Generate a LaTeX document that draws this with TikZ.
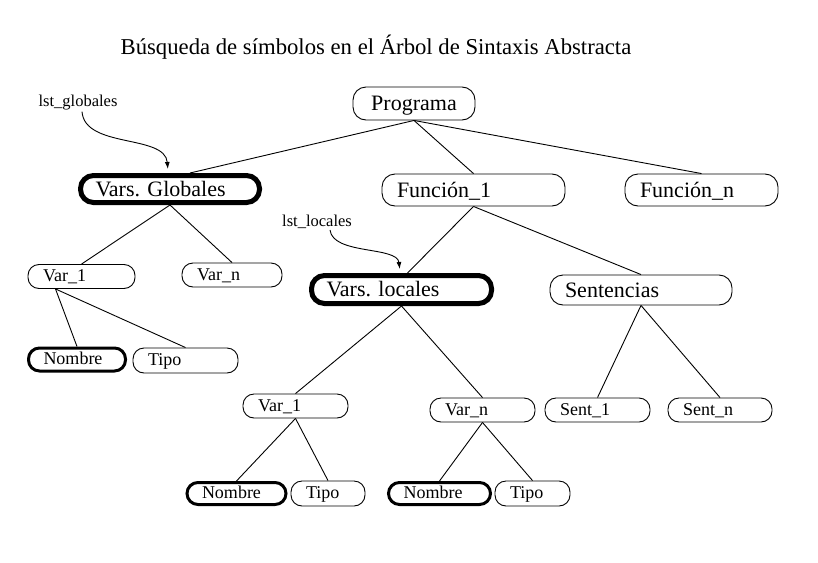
\documentclass[tikz,border=0pt]{standalone}
\usepackage{fontspec}
\setmainfont{Liberation Serif}
\usepackage{tikz}
\usetikzlibrary{arrows.meta}
\frenchspacing

\begin{document}
\begin{tikzpicture}[
  x=1pt, y=-1pt,
  grande/.style={draw,line width=0.9pt,rounded corners=13pt,inner xsep=15pt,inner ysep=0pt,align=left,text height=18pt,text depth=4pt,font=\fontsize{22}{24}\selectfont},
  chica/.style={draw,line width=0.9pt,rounded corners=11pt,inner xsep=15pt,inner ysep=0pt,align=left,minimum height=24pt,text height=14pt,text depth=4pt,font=\fontsize{18}{20}\selectfont},
  marcado/.style={line width=5pt},
  marcadito/.style={line width=3pt},
  etiqueta/.style={inner sep=0pt,font=\fontsize{16.5}{18}\selectfont},
  rama/.style={line width=0.9pt},
  puntero/.style={-{Latex[length=7pt,width=5pt]},line width=0.9pt,shorten >=2pt}
]
\useasboundingbox (0,0) rectangle (818,562);

\node[font=\fontsize{22.7}{24}\selectfont] (titulo) at (376,47) {Búsqueda de símbolos en el Árbol de Sintaxis Abstracta};

% nivel 0 y 1
\node[grande,text width=92pt,align=center,minimum height=33pt] (prog) at (414,103.5) {Programa};
\node[grande,marcado,text width=149pt,minimum height=27pt] (vglob) at (170,189) {Vars. Globales};
\node[grande,text width=153pt,minimum height=32pt] (fun1) at (473.5,190) {Función\_1};
\node[grande,text width=123pt,minimum height=32pt] (funn) at (701.5,190) {Función\_n};

% globales
\node[chica,text width=77pt] (v1g) at (81.5,276.5) {Var\_1};
\node[chica,text width=70pt] (vng) at (232,275) {Var\_n};
\node[chica,marcadito,text width=67pt,minimum height=23pt] (nomg) at (77,359.5) {Nombre};
\node[chica,text width=75pt,minimum height=25pt] (tipg) at (185.5,360.5) {Tipo};

% funcion
\node[grande,marcado,text width=150pt,minimum height=28pt] (vloc) at (401.5,289.5) {Vars. locales};
\node[grande,text width=152pt,minimum height=30pt] (sent) at (641,290) {Sentencias};
\node[chica,text width=75pt] (v1l) at (295.5,406) {Var\_1};
\node[chica,text width=75pt] (vnl) at (482.5,410) {Var\_n};
\node[chica,text width=75pt] (s1) at (597.5,410) {Sent\_1};
\node[chica,text width=74pt] (sn) at (720,410) {Sent\_n};
\node[chica,marcadito,text width=69pt,minimum height=22pt] (noml) at (236.5,493.5) {Nombre};
\node[chica,text width=44pt,minimum height=25pt] (tipl) at (328,493.5) {Tipo};
\node[chica,marcadito,text width=72pt,minimum height=22pt] (nomr) at (439.5,493.5) {Nombre};
\node[chica,text width=45pt,minimum height=25pt] (tipr) at (532.5,493.5) {Tipo};

% etiquetas
\node[etiqueta] (lglob) at (78,103) {lst\_globales};
\node[etiqueta] (lloc) at (317,222) {lst\_locales};

% ramas
\draw[rama] (prog.south) -- ([xshift=20pt]vglob.north);
\draw[rama] (prog.south) -- (fun1.north);
\draw[rama] (prog.south) -- (funn.north);
\draw[rama] (vglob.south) -- (v1g.north);
\draw[rama] (vglob.south) -- (vng.north);
\draw[rama] ([xshift=-26pt]v1g.south) -- (nomg.north);
\draw[rama] ([xshift=-26pt]v1g.south) -- (tipg.north);
\draw[rama] (fun1.south) -- ([xshift=6pt]vloc.north);
\draw[rama] (fun1.south) -- (sent.north);
\draw[rama] (vloc.south) -- (v1l.north);
\draw[rama] (vloc.south) -- (vnl.north);
\draw[rama] (v1l.south) -- (noml.north);
\draw[rama] (v1l.south) -- (tipl.north);
\draw[rama] (vnl.south) -- (nomr.north);
\draw[rama] (vnl.south) -- (tipr.north);
\draw[rama] (sent.south) -- (s1.north);
\draw[rama] (sent.south) -- (sn.north);

% punteros
\draw[puntero] ([xshift=4pt,yshift=-1pt]lglob.south) .. controls +(3,37) and +(-3,-37) .. ([xshift=-2pt,yshift=2pt]vglob.north);
\draw[puntero] ([xshift=13pt,yshift=-1pt]lloc.south) .. controls +(3,25) and +(-3,-25) .. ([xshift=-1.5pt,yshift=2pt]vloc.north);
\end{tikzpicture}
\end{document}
